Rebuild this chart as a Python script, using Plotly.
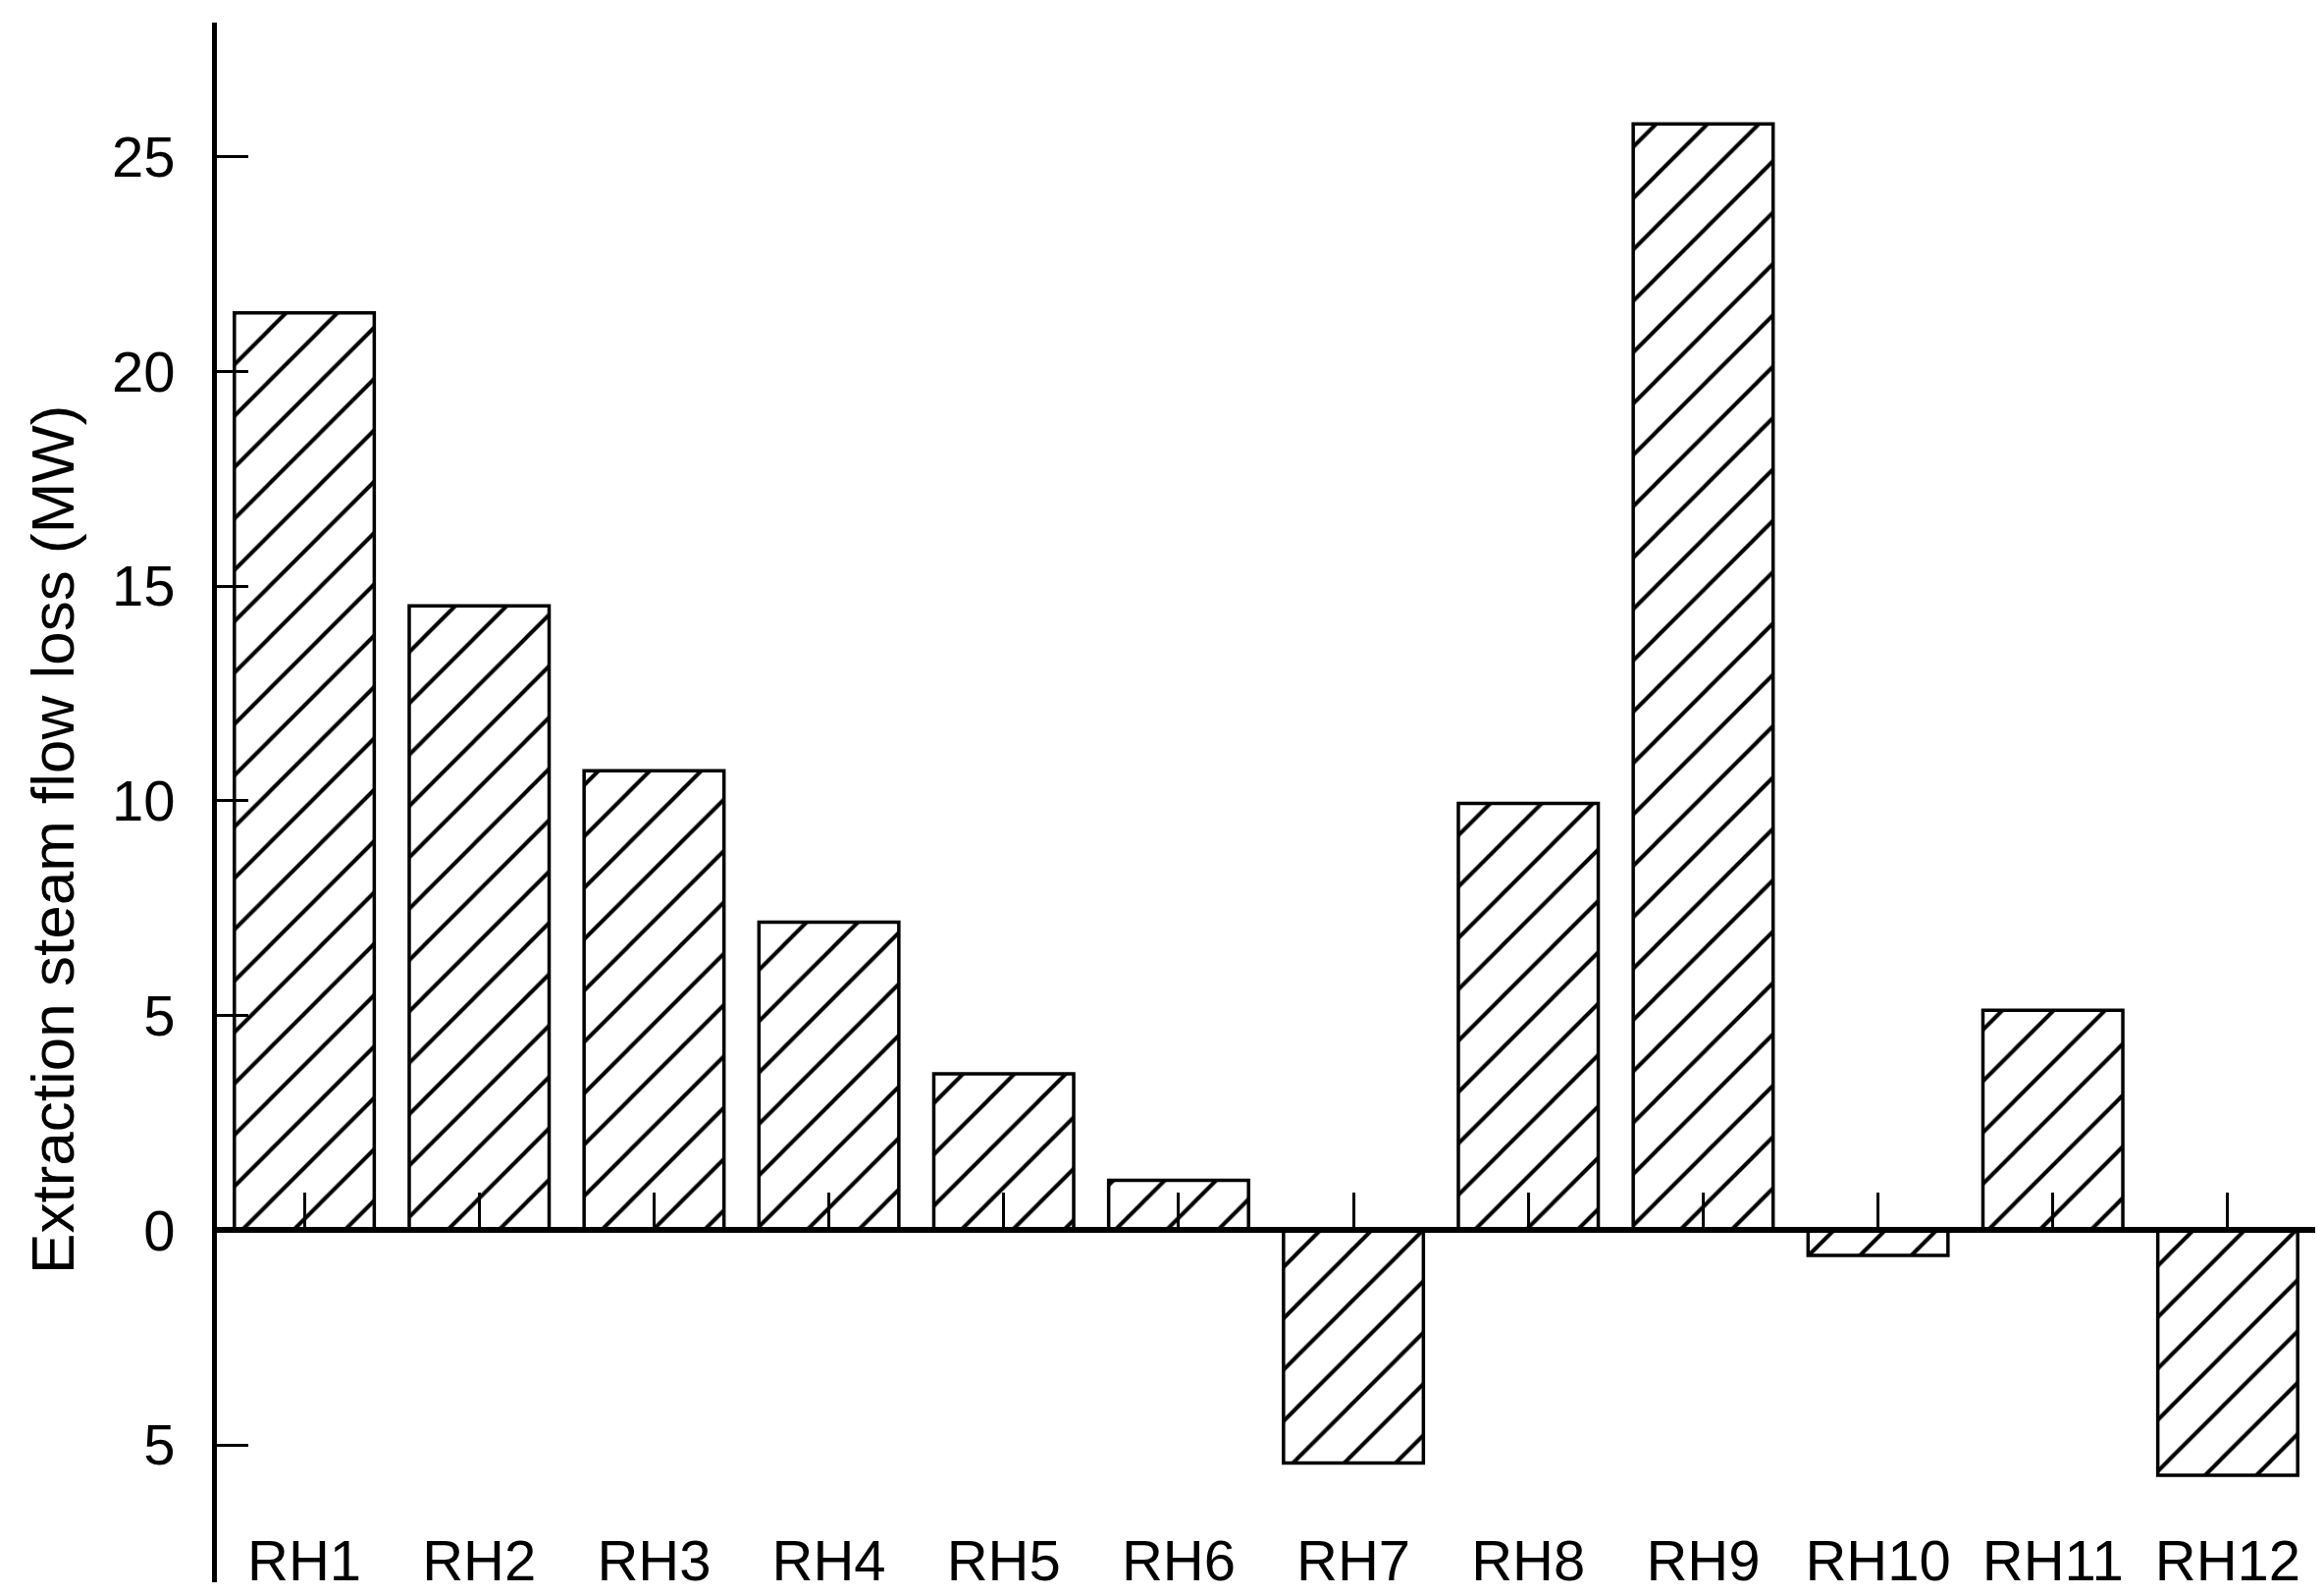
import plotly.graph_objects as go

categories = ["RH1", "RH2", "RH3", "RH4", "RH5", "RH6", "RH7", "RH8", "RH9", "RH10", "RH11", "RH12"]
loss_mw = [21.36, 14.54, 10.70, 7.17, 3.64, 1.16, -5.42, 9.94, 25.76, -0.59, 5.12, -5.71]
y_tickvals = [-5, 0, 5, 10, 15, 20, 25]
y_ticktext = ["5", "0", "5", "10", "15", "20", "25"]

Y_MIN, Y_MAX = -8.2, 28.12
FONT = "Liberation Sans, Arial, sans-serif"

fig = go.Figure()
fig.add_trace(go.Bar(
    x=categories, y=loss_mw, width=0.8,
    marker=dict(color="white", line=dict(color="black", width=3.5),
                pattern=dict(shape="/", fgcolor="black", bgcolor="white", fgopacity=1,
                             size=37, solidity=0.11)),
    showlegend=False,
))

zero_pos = (0 - Y_MIN) / (Y_MAX - Y_MIN)

fig.update_layout(
    width=2368, height=1626,
    paper_bgcolor="white", plot_bgcolor="white",
    margin=dict(l=213, r=17, t=15, b=18),
    font=dict(family=FONT, size=58, color="black"),
    xaxis=dict(
        type="category", range=[-0.5, 11.5], anchor="free", position=zero_pos,
        showline=True, linewidth=6, linecolor="black",
        ticks="inside", ticklen=35, tickwidth=3, tickcolor="black",
        ticklabelstandoff=284, showgrid=False, zeroline=False,
        layer="above traces", tickfont=dict(size=58),
    ),
    yaxis=dict(
        range=[Y_MIN, Y_MAX], tickvals=y_tickvals, ticktext=y_ticktext,
        showline=True, linewidth=5, linecolor="black",
        ticks="inside", ticklen=32, tickwidth=3, tickcolor="black",
        ticklabelstandoff=26, showgrid=False, zeroline=False,
        layer="above traces", tickfont=dict(size=58),
    ),
    annotations=[dict(
        text="Extraction steam flow loss (MW)", textangle=-90,
        xref="paper", yref="paper", x=(46 - 213) / (2368 - 230), y=(1608 - 850) / (1626 - 33),
        showarrow=False, font=dict(size=62), xanchor="center", yanchor="middle",
    )],
)

fig.write_html("out.html")
